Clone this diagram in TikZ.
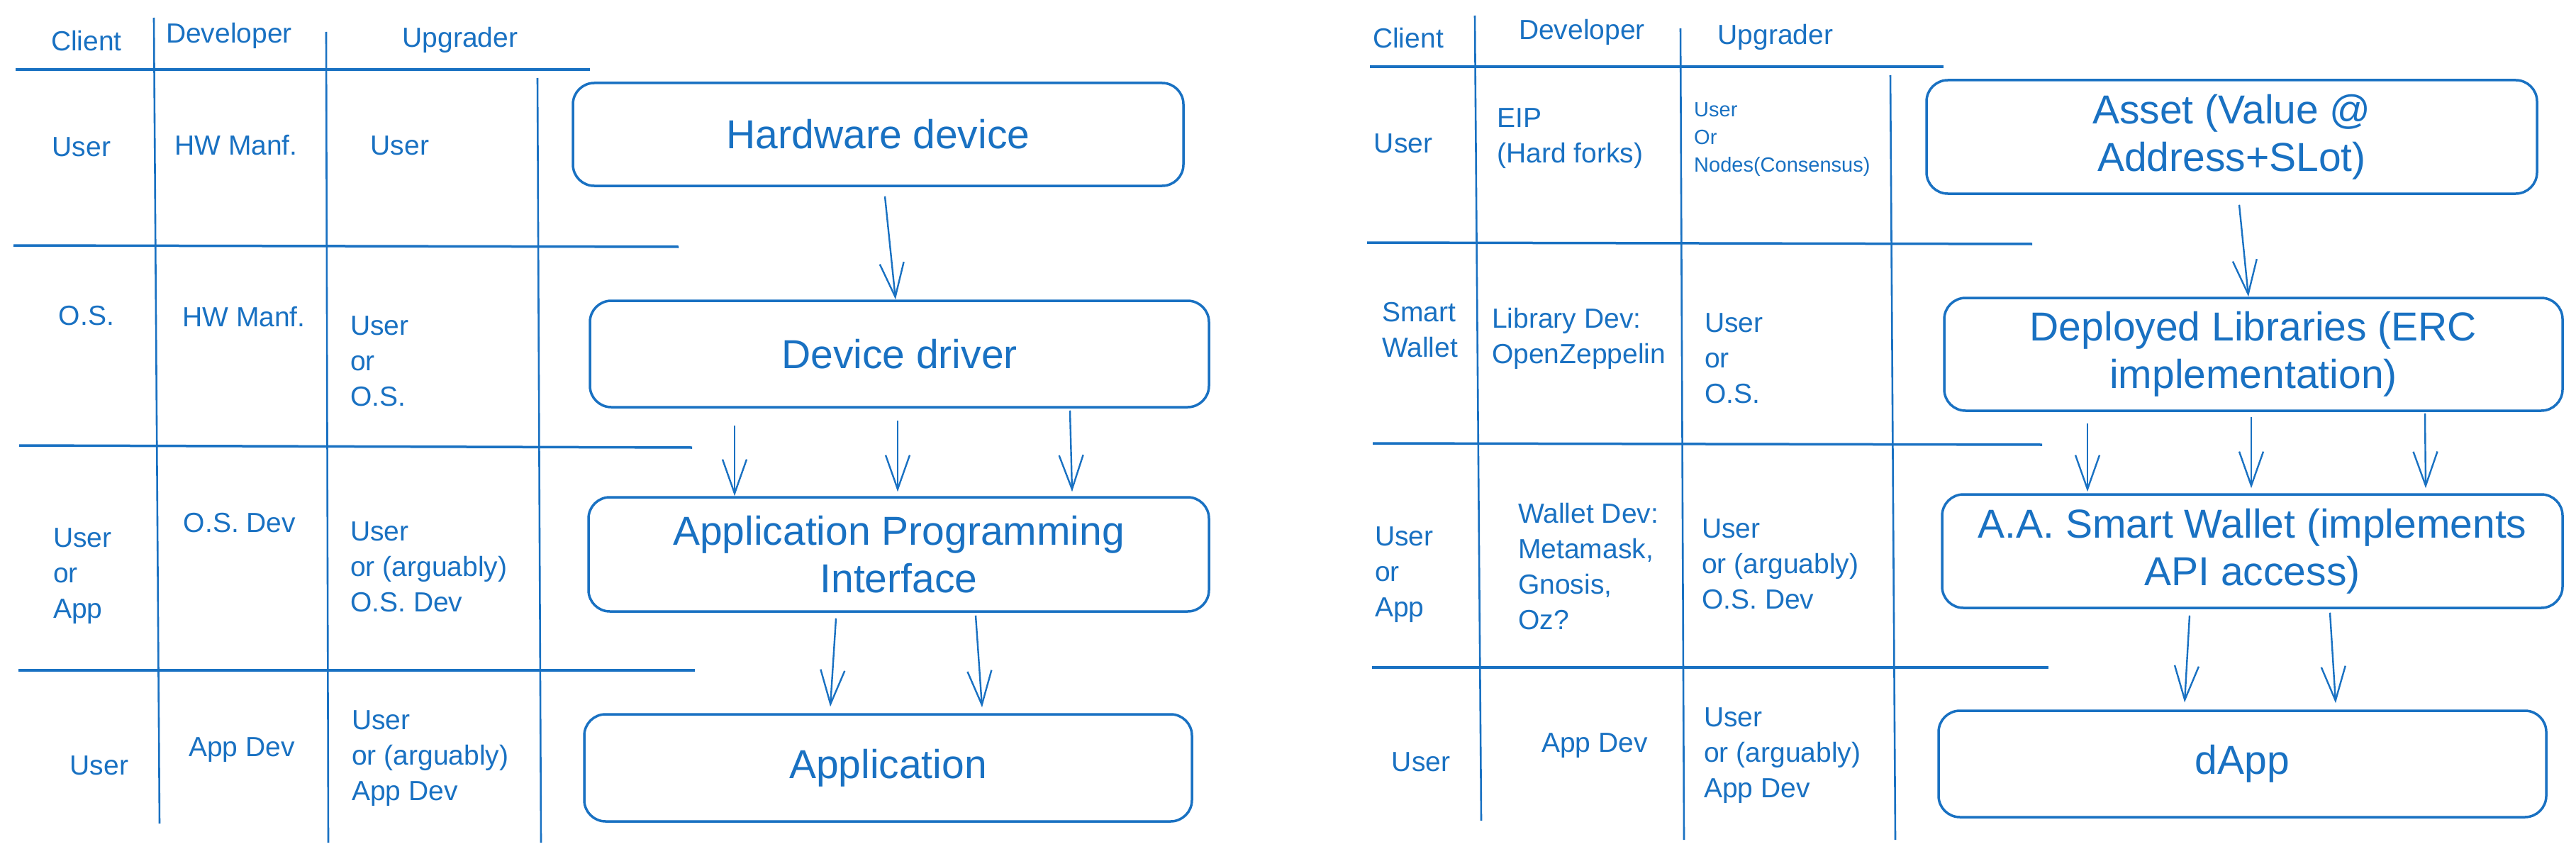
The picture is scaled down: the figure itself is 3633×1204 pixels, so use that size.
\documentclass[tikz,border=0pt]{standalone}
\usepackage{fontspec}
\setmainfont{Liberation Sans}
\usetikzlibrary{arrows.meta}
\definecolor{blu}{RGB}{25,113,194}
\begin{document}
\begin{tikzpicture}[x=1pt,y=-1pt,
  box/.style={draw=blu, line width=3.5pt, rounded corners=30pt, inner sep=0pt, align=center,
    text=blu, font=\fontsize{57}{67}\selectfont},
  cell/.style={text=blu, inner sep=0pt, align=left, font=\fontsize{39}{50}\selectfont},
  smallcell/.style={text=blu, inner sep=0pt, align=left, font=\fontsize{29}{39}\selectfont},
  hline/.style={draw=blu, line width=3.5pt},
  vline/.style={draw=blu, line width=2.6pt},
  arr/.style={draw=blu, line width=2.4pt, -{Straight Barb[length=48pt,width=34pt,line width=2.4pt]}}
]
\fill[white] (0,0) rectangle (3633,1204);
\useasboundingbox (0,0) rectangle (3633,1204);

% ---------------- left table ----------------
\draw[hline] (22,98) -- (832,98);
\draw[hline] (19,346) -- (957,348);
\draw[hline] (27,628) -- (976,631);
\draw[hline] (26,945) -- (980,945);
\draw[vline] (217,25) -- (225,1161);
\draw[vline] (460,45) -- (463,1188);
\draw[vline] (758,110) -- (763,1188);

\node[cell] (lh1) at (122,58) {Client};
\node[cell] (lh2) at (323,50) {Developer};
\node[cell] (lh3) at (649,56) {Upgrader};

\node[cell] (l11) at (115,207) {User};
\node[cell] (l12) at (333,205) {HW Manf.};
\node[cell] (l13) at (564,205) {User};

\node[cell] (l21) at (122,445) {O.S.};
\node[cell] (l22) at (344,447) {HW Manf.};
\node[cell, anchor=west] (l23) at (494,509) {User\\or\\O.S.};

\node[cell, anchor=west] (l31) at (75,812) {User\\or\\App};
\node[cell] (l32) at (338,737) {O.S. Dev};
\node[cell, anchor=west] (l33) at (494,799) {User\\or (arguably)\\O.S. Dev};

\node[cell] (l41) at (140,1079) {User};
\node[cell] (l42) at (341,1057) {App Dev};
\node[cell, anchor=west] (l43) at (496,1069) {User\\or (arguably)\\App Dev};

% ---------------- left boxes ----------------
\node[box, minimum width=861pt, minimum height=145pt] (b1) at (1238.5,189.5) {Hardware device};
\node[box, minimum width=873pt, minimum height=150pt] (b2) at (1268.5,499) {Device driver};
\node[box, minimum width=875pt, minimum height=161pt] (b3) at (1267.5,781.5) {Application Programming\\Interface};
\node[box, minimum width=857pt, minimum height=151pt] (b4) at (1252.5,1082.5) {Application};

\draw[arr] ([xshift=9.5pt,yshift=-13pt]b1.south) -- ([xshift=-5.5pt]b2.north);
\draw[arr] ([xshift=-232.5pt,yshift=-24pt]b2.south) -- ([xshift=-231.5pt]b3.north);
\draw[arr] ([xshift=-2.5pt,yshift=-17pt]b2.south) -- ([xshift=-1.5pt,yshift=6pt]b3.north);
\draw[arr] ([xshift=240.5pt,yshift=-3pt]b2.south) -- ([xshift=244.5pt,yshift=6pt]b3.north);
\draw[arr] ([xshift=-88.5pt,yshift=-8pt]b3.south) -- ([xshift=-81.5pt,yshift=9pt]b4.north);
\draw[arr] ([xshift=108.5pt,yshift=-4pt]b3.south) -- ([xshift=132.5pt,yshift=8pt]b4.north);

% ---------------- right table ----------------
\draw[hline] (1932,94) -- (2741,94);
\draw[hline] (1928,342) -- (2866,344);
\draw[hline] (1936,625) -- (2880,627);
\draw[hline] (1935,941) -- (2889,941);
\draw[vline] (2080,22) -- (2089,1157);
\draw[vline] (2370,40) -- (2375,1184);
\draw[vline] (2666,106) -- (2673,1184);

\node[cell] (rh1) at (1986,54) {Client};
\node[cell] (rh2) at (2231,45) {Developer};
\node[cell] (rh3) at (2504,52) {Upgrader};

\node[cell] (r11) at (1979,202) {User};
\node[cell, anchor=west] (r12) at (2111,195) {EIP\\(Hard forks)};
\node[smallcell, anchor=west] (r13) at (2389,197) {User\\Or\\Nodes(Consensus)};

\node[cell, anchor=west] (r21) at (1949,465) {Smart\\Wallet};
\node[cell, anchor=west] (r22) at (2104,477) {Library Dev:\\OpenZeppelin};
\node[cell, anchor=west] (r23) at (2404,505) {User\\or\\O.S.};

\node[cell, anchor=west] (r31) at (1939,810) {User\\or\\App};
\node[cell, anchor=west] (r32) at (2141,799) {Wallet Dev:\\Metamask,\\Gnosis,\\Oz?};
\node[cell, anchor=west] (r33) at (2400,795) {User\\or (arguably)\\O.S. Dev};

\node[cell] (r41) at (2004,1074) {User};
\node[cell] (r42) at (2249,1051) {App Dev};
\node[cell, anchor=west] (r43) at (2403,1065) {User\\or (arguably)\\App Dev};

% ---------------- right boxes ----------------
\node[box, minimum width=861pt, minimum height=160pt] (c1) at (3147.5,193) {Asset (Value @\\Address+SLot)};
\node[box, minimum width=872pt, minimum height=159pt] (c2) at (3178,499.5) {Deployed Libraries (ERC\\implementation)};
\node[box, minimum width=875pt, minimum height=160pt] (c3) at (3176.5,777) {A.A. Smart Wallet (implements\\API access)};
\node[box, minimum width=857pt, minimum height=150pt] (c4) at (3162.5,1077) {dApp};

\draw[arr] ([xshift=10.5pt,yshift=-14pt]c1.south) -- ([xshift=-7pt]c2.north);
\draw[arr] ([xshift=-234pt,yshift=-16pt]c2.south) -- ([xshift=-232.5pt,yshift=2pt]c3.north);
\draw[arr] ([xshift=-3pt,yshift=-7pt]c2.south) -- ([xshift=-1.5pt,yshift=7pt]c3.north);
\draw[arr] ([xshift=242pt,yshift=-2pt]c2.south) -- ([xshift=244.5pt,yshift=7pt]c3.north);
\draw[arr] ([xshift=-88.5pt,yshift=-9pt]c3.south) -- ([xshift=-81.5pt,yshift=10pt]c4.north);
\draw[arr] ([xshift=109.5pt,yshift=-5pt]c3.south) -- ([xshift=131.5pt,yshift=9pt]c4.north);
\end{tikzpicture}
\end{document}
